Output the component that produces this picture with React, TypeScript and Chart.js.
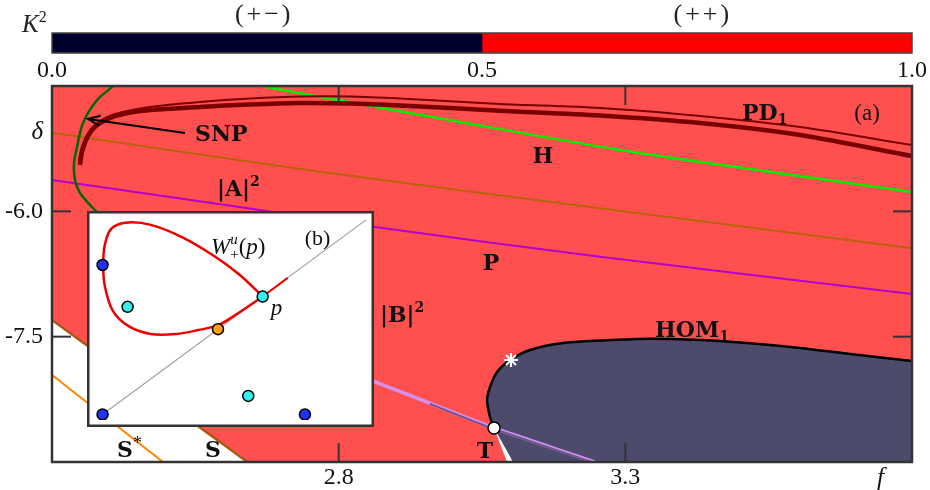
import React, { useEffect, useRef } from "react";
import { Chart, registerables } from "chart.js";

Chart.register(...registerables);

type Pt = [number, number];

// ---------------- colour bar (K^2) ----------------
const k2Edges = [0.0, 0.5, 1.0];
const k2Colors = ["#000030", "#ff0000"];
const k2TickValues = [0.0, 0.5, 1.0];
const k2RegionLabels = ["(+\u2212)", "(++)"];
const k2RegionAt = [0.245, 0.755];

// ---------------- panel (a) ----------------
const fLimits: Pt = [2.3, 3.8];
const deltaLimits: Pt = [-9.0, -4.5];
const fTickValues = [2.8, 3.3];
const deltaTickValues = [-7.5, -6.0];
const fNameAt = 3.745;
const deltaNameAt = -5.05;

const pd1Thick: Pt[] = [
  [2.3488, -5.445], [2.3523, -5.29], [2.3593, -5.146], [2.3698, -5.027], [2.3837, -4.943],
  [2.4099, -4.859], [2.4535, -4.799], [2.5582, -4.751], [2.6454, -4.721], [2.7326, -4.703],
  [2.8198, -4.709], [2.907, -4.733], [3.0814, -4.796], [3.2559, -4.853], [3.4303, -4.943],
  [3.6047, -5.086], [3.8, -5.338],
];
const pd1Thin: Pt[] = [
  [2.3471, -5.386], [2.3506, -5.266], [2.3576, -5.134], [2.368, -5.015], [2.3837, -4.919],
  [2.4099, -4.835], [2.4709, -4.751], [2.5582, -4.691], [2.6454, -4.65], [2.7326, -4.626],
  [2.8198, -4.626], [2.907, -4.65], [3.0814, -4.715], [3.2559, -4.763], [3.4303, -4.859],
  [3.6047, -4.991], [3.8, -5.206],
];
const snpCurve: Pt[] = [
  [2.413, -4.42], [2.4064, -4.5], [2.3785, -4.668], [2.3541, -4.943], [2.3436, -5.23],
  [2.3384, -5.421], [2.3401, -5.625], [2.3488, -5.78], [2.3663, -5.924], [2.3837, -6.044],
];
const hopfCurve: Pt[] = [
  [2.6663, -4.5], [2.7326, -4.587], [3.0117, -4.931], [3.2908, -5.266], [3.535, -5.511], [3.8, -5.768],
];
const aSquared: Pt[] = [[2.3, -5.059], [2.7675, -5.526], [3.2559, -5.964], [3.8, -6.442]];
const pCurve: Pt[] = [[2.3, -5.625], [2.6628, -5.984], [2.8634, -6.187], [3.2559, -6.543], [3.8, -6.989]];
const sCurve: Pt[] = [[2.3, -7.3], [2.641, -9.0]];
const sStarCurve: Pt[] = [[2.3, -7.958], [2.4936, -9.0]];
const bSquared: Pt[] = [[2.7326, -7.696], [2.8617, -8.034], [3.071, -8.593], [3.2437, -8.993], [3.2559, -9.036]];
const bSquaredDark: Pt[] = [[2.9593, -8.305], [3.071, -8.605], [3.2437, -9.005]];
const homCurve: Pt[] = [
  [3.071, -8.593], [3.064, -8.461], [3.0588, -8.258], [3.064, -8.102], [3.0762, -7.923],
  [3.0989, -7.779], [3.1338, -7.659], [3.1913, -7.575], [3.2785, -7.54], [3.3431, -7.524],
  [3.4303, -7.54], [3.5175, -7.579], [3.6047, -7.635], [3.692, -7.707], [3.8, -7.791],
];
const homClosing: Pt[] = [[3.8, -9.0], [3.1041, -9.0]];
const wedge: Pt[] = [[3.071, -8.593], [3.0937, -9.0], [3.1041, -9.0]];
const tPoint: Pt[] = [[3.071, -8.593]];
const starPoint: Pt[] = [[3.1006, -7.779]];
const snpArrow: Pt[] = [[2.532, -5.062], [2.3628, -4.895]];
const snpArrowHead: Pt[] = [[2.3823, -4.975], [2.3628, -4.895], [2.3848, -4.857]];

// ---------------- panel (b) ----------------
const insetU: Pt = [-0.0325, 1.0036];
const insetV: Pt = [-0.0288, 1.0096];
const diagonal: Pt[] = [[0, 0], [1, 1]];
const loopWu: Pt[] = [
  [0.6076, 0.6058], [0.5199, 0.7178], [0.4235, 0.814], [0.3032, 0.9101], [0.183, 0.9744],
  [0.0866, 0.9856], [0.0325, 0.9535], [0.0084, 0.8702], [0.0024, 0.7692], [0.0084, 0.6619],
  [0.0385, 0.5337], [0.0987, 0.4535], [0.183, 0.4135], [0.2792, 0.4135], [0.3634, 0.4335],
  [0.438, 0.4585], [0.5078, 0.5146], [0.6076, 0.6058],
];
const branchWu: Pt[] = [[0.6076, 0.6058], [0.7028, 0.7019]];
const bluePts: Pt[] = [[0.0, 0.768], [0.0, 0.0], [0.768, 0.0]];
const cyanPts: Pt[] = [[0.095, 0.553], [0.6076, 0.6058], [0.553, 0.095]];
const orangePts: Pt[] = [[0.438, 0.438]];

// ---------------- styles ----------------
const RED_BG = "#ff4f4f";
const DARK = "#4c4b6b";
const SERIF = '"Liberation Serif", "DejaVu Serif", serif';
const BOLD = (s: number) => `bold ${s}px "DejaVu Serif", serif`;
const ROMAN = (s: number) => `${s}px ${SERIF}`;
const ITAL = (s: number) => `italic ${s}px ${SERIF}`;

type Seg = { t: string; font: string; dy?: number; over?: boolean };

function drawRich(ctx: CanvasRenderingContext2D, segs: Seg[], x: number, yBase: number, align: string) {
  const layout: { x: number; s: Seg }[] = [];
  let cursor = 0, lastStart = 0, lastW = 0;
  for (const s of segs) {
    ctx.font = s.font;
    const w = ctx.measureText(s.t).width;
    if (s.over) {
      layout.push({ x: lastStart, s });
      cursor = lastStart + Math.max(lastW, w);
    } else {
      layout.push({ x: cursor, s });
      lastStart = cursor; lastW = w; cursor += w;
    }
  }
  const x0 = align === "center" ? x - cursor / 2 : x;
  ctx.textBaseline = "alphabetic";
  ctx.textAlign = "left";
  for (const it of layout) {
    ctx.font = it.s.font;
    ctx.fillText(it.s.t, x0 + it.x, yBase + (it.s.dy || 0));
  }
}

const mainLabels = [
  { segs: [{ t: "SNP", font: BOLD(22) }], f: 2.5494, d: -5.062, align: "left", base: 8 },
  { segs: [{ t: "H", font: BOLD(22) }], f: 3.1564, d: -5.326, align: "center", base: 8 },
  { segs: [{ t: "|A|", font: BOLD(22) }, { t: "2", font: BOLD(14), dy: -10 }], f: 2.5878, d: -5.721, align: "left", base: 8 },
  { segs: [{ t: "P", font: BOLD(22) }], f: 3.0657, d: -6.606, align: "center", base: 8 },
  { segs: [{ t: "|B|", font: BOLD(22) }, { t: "2", font: BOLD(14), dy: -10 }], f: 2.8721, d: -7.228, align: "left", base: 8 },
  { segs: [{ t: "HOM", font: BOLD(22) }, { t: "1", font: BOLD(14), dy: 4 }], f: 3.3518, d: -7.408, align: "left", base: 8 },
  { segs: [{ t: "PD", font: BOLD(22) }, { t: "1", font: BOLD(14), dy: 4 }], f: 3.5036, d: -4.811, align: "left", base: 8 },
  { segs: [{ t: "(a)", font: ROMAN(23) }], f: 3.7216, d: -4.823, align: "center", base: 7 },
  { segs: [{ t: "T", font: BOLD(22) }], f: 3.0553, d: -8.856, align: "center", base: 8 },
  { segs: [{ t: "S", font: BOLD(22) }, { t: "*", font: ROMAN(18), dy: -8 }], f: 2.4134, d: -8.844, align: "left", base: 8 },
  { segs: [{ t: "S", font: BOLD(22) }], f: 2.5808, d: -8.844, align: "center", base: 8 },
];

const insetLabels = [
  {
    segs: [
      { t: "W", font: ITAL(23) }, { t: "+", font: ROMAN(15), dy: 5 }, { t: "u", font: ITAL(15), dy: -10, over: true },
      { t: "(", font: ROMAN(23) }, { t: "p", font: ITAL(23) }, { t: ")", font: ROMAN(23) },
    ],
    u: 0.4116, v: 0.8606, align: "left", base: 7,
  },
  { segs: [{ t: "(b)", font: ROMAN(22) }], u: 0.8159, v: 0.9087, align: "center", base: 7 },
  { segs: [{ t: "p", font: ITAL(23) }], u: 0.6606, v: 0.5288, align: "center", base: 3 },
];

const toXY = (a: Pt[]) => a.map(([x, y]) => ({ x, y }));
const lineDs = (data: Pt[], color: string, width: number, extra: any = {}) => ({
  data: toXY(data), showLine: true, borderColor: color, borderWidth: width, pointRadius: 0,
  fill: false, tension: 0.3, ...extra,
});
const dotDs = (data: Pt[], color: string, r: number, extra: any = {}) => ({
  data: toXY(data), showLine: false, pointRadius: r, backgroundColor: color, borderColor: "#000",
  pointBorderWidth: 1.5, borderWidth: 1.5, ...extra,
});

function strokeLine(ctx: CanvasRenderingContext2D, x1: number, y1: number, x2: number, y2: number) {
  ctx.beginPath(); ctx.moveTo(x1, y1); ctx.lineTo(x2, y2); ctx.stroke();
}

const mainDeco = {
  id: "mainDeco",
  beforeDatasetsDraw(chart: any) {
    const { ctx, chartArea: a } = chart;
    ctx.save();
    ctx.fillStyle = RED_BG;
    ctx.fillRect(a.left, a.top, a.right - a.left, a.bottom - a.top);
    ctx.restore();
  },
  afterDatasetsDraw(chart: any) {
    const { ctx, chartArea: a } = chart;
    const x = chart.scales.x, y = chart.scales.y;
    ctx.save();
    ctx.fillStyle = "#111";
    for (const lab of mainLabels) {
      drawRich(ctx, lab.segs as Seg[], x.getPixelForValue(lab.f), y.getPixelForValue(lab.d) + lab.base, lab.align);
    }
    ctx.strokeStyle = "#333";
    ctx.lineWidth = 2;
    for (const v of fTickValues) {
      const px = x.getPixelForValue(v);
      strokeLine(ctx, px, a.bottom, px, a.bottom - 19);
      strokeLine(ctx, px, a.top, px, a.top + 19);
    }
    for (const v of deltaTickValues) {
      const py = y.getPixelForValue(v);
      strokeLine(ctx, a.left, py, a.left + 19, py);
      strokeLine(ctx, a.right, py, a.right - 19, py);
    }
    ctx.lineWidth = 2.5;
    ctx.strokeRect(a.left, a.top, a.right - a.left, a.bottom - a.top);
    ctx.restore();
  },
};

const k2Deco = {
  id: "k2Deco",
  afterDraw(chart: any) {
    const { ctx, chartArea: a } = chart;
    const x = chart.scales.x;
    ctx.save();
    ctx.strokeStyle = "#444";
    ctx.lineWidth = 1.5;
    ctx.strokeRect(a.left, a.top, a.right - a.left, a.bottom - a.top);
    ctx.fillStyle = "#222";
    ctx.font = ROMAN(26);
    ctx.textAlign = "center";
    ctx.textBaseline = "alphabetic";
    (ctx as any).letterSpacing = "3px";
    k2RegionLabels.forEach((t, i) => ctx.fillText(t, x.getPixelForValue(k2RegionAt[i]) + 1.5, 22));
    (ctx as any).letterSpacing = "0px";
    drawRich(ctx, [{ t: "K", font: ITAL(25) }, { t: "2", font: ROMAN(16), dy: -10 }], a.left - 30, 32, "left");
    ctx.restore();
  },
};

const insetDeco = {
  id: "insetDeco",
  beforeDatasetsDraw(chart: any) {
    const { ctx, width, height } = chart;
    ctx.save();
    ctx.fillStyle = "#fff";
    ctx.fillRect(0, 0, width, height);
    ctx.restore();
  },
  afterDraw(chart: any) {
    const { ctx, width, height } = chart;
    const x = chart.scales.x, y = chart.scales.y;
    ctx.save();
    ctx.fillStyle = "#111";
    for (const lab of insetLabels) {
      drawRich(ctx, lab.segs as Seg[], x.getPixelForValue(lab.u), y.getPixelForValue(lab.v) + lab.base, lab.align);
    }
    ctx.strokeStyle = "#333";
    ctx.lineWidth = 2.5;
    ctx.strokeRect(1.25, 1.25, width - 2.5, height - 2.5);
    ctx.restore();
  },
};

function k2Config(): any {
  return {
    type: "bar",
    data: {
      labels: ["K2"],
      datasets: k2Colors.map((c, i) => ({
        data: [k2Edges[i + 1] - k2Edges[i]], backgroundColor: c, borderWidth: 0,
        barPercentage: 1, categoryPercentage: 1,
      })),
    },
    options: {
      indexAxis: "y", animation: false, responsive: false, events: [],
      layout: { padding: { left: 52, right: 18, top: 33, bottom: 0 } },
      plugins: { legend: { display: false }, tooltip: { enabled: false } },
      scales: {
        x: {
          type: "linear", stacked: true, min: 0, max: 1,
          afterBuildTicks: (s: any) => { s.ticks = k2TickValues.map((v) => ({ value: v })); },
          afterFit: (s: any) => { s.height = 33; },
          grid: { display: false, drawTicks: false }, border: { display: false },
          ticks: { callback: (v: any) => Number(v).toFixed(1), padding: 3, color: "#111", font: { family: SERIF, size: 24 }, maxRotation: 0, autoSkip: false },
        },
        y: { stacked: true, display: false },
      },
    },
    plugins: [k2Deco],
  };
}

function mainConfig(): any {
  const layers: any[] = [
    lineDs(sCurve, "#a85a14", 2.5, { fill: "start", backgroundColor: "#ffffff", tension: 0 }),
    { data: toXY([...homCurve, ...homClosing]), showLine: true, borderWidth: 0, borderColor: "rgba(0,0,0,0)", backgroundColor: DARK, fill: "shape", tension: 0, pointRadius: 0 },
    { data: toXY(wedge), showLine: true, borderWidth: 0, borderColor: "rgba(0,0,0,0)", backgroundColor: "#ffffff", fill: "shape", tension: 0, pointRadius: 0 },
    lineDs(sStarCurve, "#ff8800", 2, { tension: 0 }),
    lineDs(aSquared, "#b8620a", 2),
    lineDs(pCurve, "#b400cc", 2),
    lineDs(hopfCurve, "#00ee00", 2.5),
    lineDs(pd1Thick, "#7a0000", 4.5),
    lineDs(pd1Thin, "#7a0000", 2),
    lineDs(snpCurve, "#006a00", 2.5),
    lineDs(snpArrow, "#000", 2, { tension: 0 }),
    lineDs(snpArrowHead, "#000", 2, { tension: 0 }),
    lineDs(bSquared, "#d591ee", 3.5, { tension: 0.15 }),
    lineDs(bSquaredDark, "#6d5590", 2, { tension: 0.15 }),
    lineDs(homCurve, "#000", 2.5),
    dotDs(tPoint, "#fff", 6),
    { data: toXY(starPoint), showLine: false, pointStyle: "star", pointRadius: 7, borderColor: "#fff", backgroundColor: "#fff", pointBorderWidth: 2, borderWidth: 2 },
  ];
  const datasets = layers.map((d, i) => ({ ...d, order: layers.length - i }));
  const tickFont = (c: any, name: number) =>
    c.tick && c.tick.value === name ? { family: SERIF, size: 25, style: "italic" } : { family: SERIF, size: 24 };
  return {
    type: "scatter",
    data: { datasets },
    options: {
      animation: false, responsive: false, events: [],
      layout: { padding: { left: 0, right: 18, top: 86, bottom: 0 } },
      plugins: { legend: { display: false }, tooltip: { enabled: false } },
      scales: {
        x: {
          type: "linear", min: fLimits[0], max: fLimits[1],
          afterBuildTicks: (s: any) => { s.ticks = [...fTickValues, fNameAt].map((v) => ({ value: v })); },
          afterFit: (s: any) => { s.height = 28; },
          grid: { display: false, drawTicks: false }, border: { display: false },
          ticks: {
            callback: (v: any) => (v === fNameAt ? "f" : Number(v).toFixed(1)),
            padding: 1, color: "#111", maxRotation: 0, minRotation: 0, autoSkip: false,
            font: (c: any) => tickFont(c, fNameAt),
          },
        },
        y: {
          type: "linear", min: deltaLimits[0], max: deltaLimits[1],
          afterBuildTicks: (s: any) => { s.ticks = [...deltaTickValues, deltaNameAt].map((v) => ({ value: v })); },
          afterFit: (s: any) => { s.width = 52; },
          grid: { display: false, drawTicks: false }, border: { display: false },
          ticks: {
            callback: (v: any) => (v === deltaNameAt ? "\u03b4" : Number(v).toFixed(1)),
            padding: 9, color: "#111", autoSkip: false,
            font: (c: any) => tickFont(c, deltaNameAt),
          },
        },
      },
    },
    plugins: [mainDeco],
  };
}

function insetConfig(): any {
  const layers: any[] = [
    lineDs(diagonal, "#a0a0a0", 1.2, { tension: 0 }),
    lineDs(loopWu, "#ee0000", 2.5, { tension: 0.35 }),
    lineDs(branchWu, "#ee0000", 2, { tension: 0 }),
    dotDs(orangePts, "#ffa000", 5.5),
    dotDs(cyanPts, "#33f0f0", 5.5),
    dotDs(bluePts, "#2233ee", 5.5),
  ];
  const datasets = layers.map((d, i) => ({ ...d, order: layers.length - i }));
  return {
    type: "scatter",
    data: { datasets },
    options: {
      animation: false, responsive: false, events: [],
      layout: { padding: 0 },
      plugins: { legend: { display: false }, tooltip: { enabled: false } },
      scales: {
        x: { type: "linear", min: insetU[0], max: insetU[1], display: false },
        y: { type: "linear", min: insetV[0], max: insetV[1], display: false },
      },
    },
    plugins: [insetDeco],
  };
}

export default function App() {
  const k2Ref = useRef<HTMLCanvasElement>(null);
  const mainRef = useRef<HTMLCanvasElement>(null);
  const insetRef = useRef<HTMLCanvasElement>(null);
  useEffect(() => {
    const charts = [
      new Chart(mainRef.current!, mainConfig()),
      new Chart(k2Ref.current!, k2Config()),
      new Chart(insetRef.current!, insetConfig()),
    ];
    return () => charts.forEach((c) => c.destroy());
  }, []);
  return (
    <div style={{ position: "fixed", left: 0, top: 0, width: 930, height: 490, background: "#fff", overflow: "hidden" }}>
      <canvas ref={mainRef} width={930} height={490} style={{ position: "absolute", left: 0, top: 0 }} />
      <canvas ref={k2Ref} width={930} height={86} style={{ position: "absolute", left: 0, top: 0 }} />
      <canvas ref={insetRef} width={287} height={216} style={{ position: "absolute", left: 87, top: 211 }} />
    </div>
  );
}
